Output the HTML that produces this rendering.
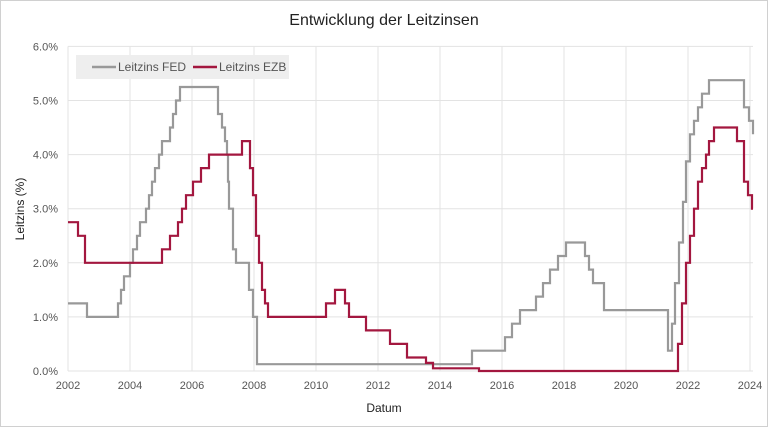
<!DOCTYPE html>
<html><head><meta charset="utf-8"><style>
body{margin:0;background:#fff}
svg{display:block;font-family:"Liberation Sans",sans-serif}
</style></head><body>
<svg id="s" width="768" height="427" viewBox="0 0 768 427">
<rect x="0.5" y="0.5" width="767" height="426" fill="#fff" stroke="#d0d0d0"/>
<text x="384" y="25" text-anchor="middle" font-size="16" fill="#222">Entwicklung der Leitzinsen</text>
<g id="grid" stroke="#e3e3e3" stroke-width="1"></g>
<g id="lab" font-size="11" fill="#555"></g>
<text x="384" y="412" text-anchor="middle" font-size="12" fill="#222">Datum</text>
<text transform="translate(24,209) rotate(-90)" text-anchor="middle" font-size="12" fill="#222">Leitzins (%)</text>
<rect x="76" y="55" width="213" height="24" fill="#eeeeee"/>
<line x1="92" y1="67" x2="116" y2="67" stroke="#999" stroke-width="2.5"/>
<text x="118" y="71" font-size="12" fill="#555">Leitzins FED</text>
<line x1="193" y1="67" x2="217" y2="67" stroke="#a3173f" stroke-width="2.5"/>
<text x="219" y="71" font-size="12" fill="#555">Leitzins EZB</text>
<polyline id="fed" fill="none" stroke="#999" stroke-width="2.2"/>
<polyline id="ezb" fill="none" stroke="#a3173f" stroke-width="2.2"/>
</svg>
<script>
var Y=function(r){return 371-r*54.1};
var g=document.getElementById('grid'),l=document.getElementById('lab'),ns='http://www.w3.org/2000/svg';
function el(p,t,a,txt){var e=document.createElementNS(ns,t);for(var k in a)e.setAttribute(k,a[k]);if(txt)e.textContent=txt;p.appendChild(e);}
for(var i=0;i<=6;i++){var y=Y(i);el(g,'line',{x1:68,x2:753,y1:y,y2:y});el(l,'text',{x:58,y:y+4,'text-anchor':'end'},i.toFixed(1)+'%');}
for(var j=0;j<12;j++){var x=68+j*62;el(g,'line',{x1:x,x2:x,y1:Y(6),y2:371});el(l,'text',{x:x,y:389,'text-anchor':'middle'},String(2002+2*j));}
function pts(d,end){var s=[];for(var i=0;i<d.length;i++){var x=d[i][0],r=d[i][1];if(i>0)s.push(x+','+Y(d[i-1][1]).toFixed(1));s.push(x+','+Y(r).toFixed(1));}s.push(end+','+Y(d[d.length-1][1]).toFixed(1));return s.join(' ');}
var fed=[[68,1.25],[87,1],[118,1.25],[121,1.5],[124,1.75],[130,2],[133,2.25],[137,2.5],[140,2.75],[146,3],[149,3.25],[152,3.5],[155,3.75],[159,4],[162,4.25],[170,4.5],[173,4.75],[176,5],[180,5.25],[218,4.75],[222,4.5],[225,4.25],[227,4],[228,3.5],[229,3],[233,2.25],[236,2],[249,1.5],[253,1],[257,0.125],[472,0.375],[505,0.625],[512,0.875],[520,1.125],[536,1.375],[543,1.625],[550,1.875],[558,2.125],[566,2.375],[585,2.125],[589,1.875],[593,1.625],[604,1.125],[668,0.375],[672,0.875],[675,1.625],[679,2.375],[683,3.125],[686,3.875],[690,4.375],[694,4.625],[698,4.875],[702,5.125],[709,5.375],[744,4.875],[749,4.625],[753,4.375]];
var ezb=[[68,2.75],[78,2.5],[85,2],[162,2.25],[170,2.5],[178,2.75],[182,3],[186,3.25],[193,3.5],[201,3.75],[209,4],[242,4.25],[250,3.75],[253,3.25],[256,2.5],[259,2],[262,1.5],[265,1.25],[268,1],[326,1.25],[335,1.5],[345,1.25],[349,1],[366,0.75],[390,0.5],[407,0.25],[426,0.15],[433,0.05],[479,0],[678,0.5],[682,1.25],[686,2],[690,2.5],[694,3],[698,3.5],[702,3.75],[706,4],[709,4.25],[714,4.5],[737,4.25],[744,3.5],[748,3.25],[752,3]];
document.getElementById('fed').setAttribute('points',pts(fed,753));
document.getElementById('ezb').setAttribute('points',pts(ezb,753));
</script>
</body></html>
